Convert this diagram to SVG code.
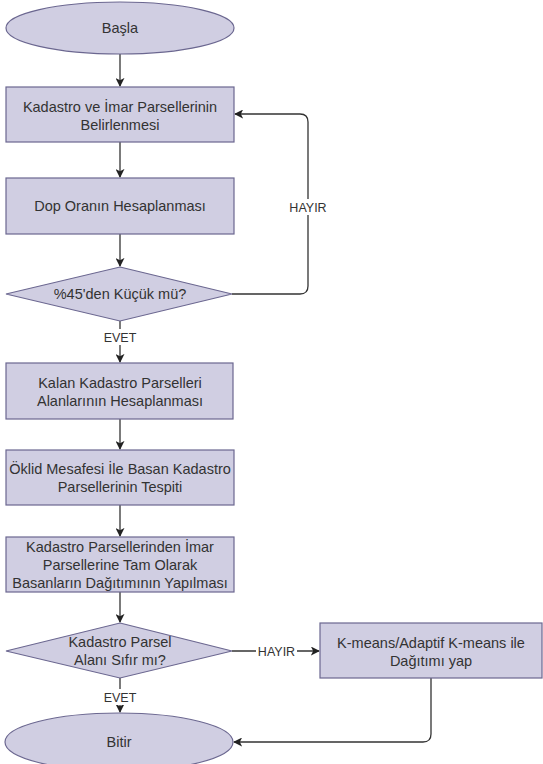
<svg xmlns="http://www.w3.org/2000/svg" width="543" height="764" viewBox="0 0 543 764">
<defs>
<style>
.n{fill:#d0cee2;stroke:#6b6790;stroke-width:1.2}
.t{font-family:"Liberation Sans",Arial,sans-serif;font-size:14.5px;fill:#333;text-anchor:middle}
.l{font-family:"Liberation Sans",Arial,sans-serif;font-size:12.5px;fill:#333;text-anchor:middle}
.c{fill:none;stroke:#333;stroke-width:1.3}
.bg{fill:#fff}
</style>
<marker id="a" viewBox="0 0 10 10" refX="9" refY="5" markerWidth="9" markerHeight="9" markerUnits="userSpaceOnUse" orient="auto">
<path d="M0,0 L10,5 L0,10 L2.5,5 z" fill="#222"/>
</marker>
</defs>
<rect width="543" height="764" fill="#fff"/>
<g id="connectors">
<path class="c" d="M120,54 V86" marker-end="url(#a)"/>
<path class="c" d="M120,142 V177" marker-end="url(#a)"/>
<path class="c" d="M120,234 V266" marker-end="url(#a)"/>
<path class="c" d="M120,321 V362" marker-end="url(#a)"/>
<path class="c" d="M120,419 V449" marker-end="url(#a)"/>
<path class="c" d="M120,505 V536" marker-end="url(#a)"/>
<path class="c" d="M120,592 V622" marker-end="url(#a)"/>
<path class="c" d="M120,678 V712" marker-end="url(#a)"/>
<path class="c" d="M232,294 H300 Q308,294 308,286 V122 Q308,114 300,114 H235" marker-end="url(#a)"/>
<path class="c" d="M232,651 H319" marker-end="url(#a)"/>
<path class="c" d="M431,678 V734 Q431,742 423,742 H234" marker-end="url(#a)"/>
<rect class="bg" x="288" y="199" width="40" height="16"/>
<text class="l" x="308" y="211.5">HAYIR</text>
<rect class="bg" x="102" y="329" width="36" height="16"/>
<text class="l" x="120" y="341.5">EVET</text>
<rect class="bg" x="256" y="643" width="41" height="16"/>
<text class="l" x="276.5" y="655.5">HAYIR</text>
<rect class="bg" x="102" y="689" width="36" height="16"/>
<text class="l" x="120" y="701.5">EVET</text>
</g>
<g id="basla">
<ellipse class="n" cx="120" cy="28" rx="114" ry="26"/>
<text class="t" x="120" y="33">Başla</text>
</g>
<g id="belirlenmesi">
<rect class="n" x="6" y="87" width="228" height="55"/>
<text class="t" x="120" y="111.5">Kadastro ve İmar Parsellerinin</text>
<text class="t" x="120" y="129.5">Belirlenmesi</text>
</g>
<g id="dop">
<rect class="n" x="6" y="178" width="228" height="56"/>
<text class="t" x="120" y="211">Dop Oranın Hesaplanması</text>
</g>
<g id="karar1">
<polygon class="n" points="120,267 232,294 120,321 6,294"/>
<text class="t" x="120" y="299">%45'den Küçük mü?</text>
</g>
<g id="kalan">
<rect class="n" x="6" y="363" width="227" height="56"/>
<text class="t" x="120" y="387.5">Kalan Kadastro Parselleri</text>
<text class="t" x="120" y="405.5">Alanlarının Hesaplanması</text>
</g>
<g id="oklid">
<rect class="n" x="6" y="450" width="228" height="55"/>
<text class="t" x="120" y="474">Öklid Mesafesi İle Basan Kadastro</text>
<text class="t" x="120" y="492">Parsellerinin Tespiti</text>
</g>
<g id="dagitim">
<rect class="n" x="6" y="537" width="228" height="55"/>
<text class="t" x="120" y="551.5">Kadastro Parsellerinden İmar</text>
<text class="t" x="120" y="569.5">Parsellerine Tam Olarak</text>
<text class="t" x="120" y="587.5">Basanların Dağıtımının Yapılması</text>
</g>
<g id="karar2">
<polygon class="n" points="120,623 232,651 120,678 6,651"/>
<text class="t" x="120" y="647">Kadastro Parsel</text>
<text class="t" x="120" y="665">Alanı Sıfır mı?</text>
</g>
<g id="kmeans">
<rect class="n" x="320" y="623" width="222" height="55"/>
<text class="t" x="431" y="647.5">K-means/Adaptif K-means ile</text>
<text class="t" x="431" y="665.5">Dağıtımı yap</text>
</g>
<g id="bitir">
<ellipse class="n" cx="119" cy="742" rx="114" ry="29"/>
<text class="t" x="119" y="747">Bitir</text>
</g>
</svg>
